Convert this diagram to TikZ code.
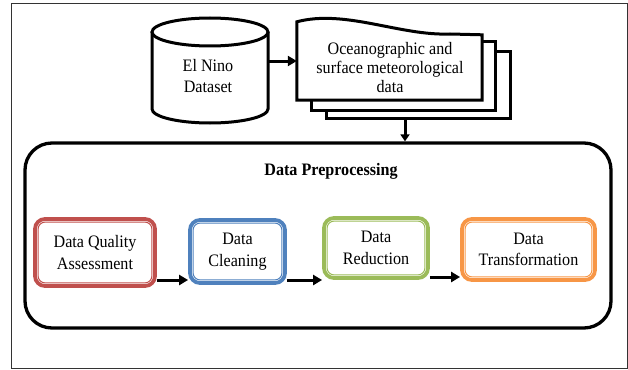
\documentclass[tikz,border=0pt]{standalone}
\usepackage{fontspec}
\setmainfont[FakeStretch=0.92]{Liberation Serif}
\usetikzlibrary{arrows.meta}
\definecolor{cred}{HTML}{C0504D}
\definecolor{cblue}{HTML}{4F81BD}
\definecolor{cgreen}{HTML}{9BBB59}
\definecolor{corange}{HTML}{F79646}
\begin{document}
\begin{tikzpicture}[x=1pt,y=-1pt,
  arr/.style={line width=3pt,-{Triangle[length=9pt,width=10pt]}},
  txt/.style={align=center,inner sep=0pt,font=\fontsize{17.5}{21}\selectfont},
  shp/.style={line width=3pt,fill=white},
  stage/.style={draw=#1,line width=3.8pt,rounded corners=10pt,align=center,inner sep=0pt,
    font=\fontsize{17.5}{21.5}\selectfont}]
\useasboundingbox (0,0) rectangle (628,369);
% outer frame
\draw[black!80,line width=0.8pt] (11.5,3.5) rectangle (627,368);

% cylinder
\node (ds) at (210,70.5) [minimum width=116pt,minimum height=105pt,inner sep=0pt] {};
\draw[shp] (152,32) -- (152,109) arc[start angle=180,end angle=0,x radius=58,y radius=14] -- (268,32);
\draw[shp] (210,32) ellipse [x radius=58,y radius=14];
\node (dstxt) at (208,76.5) [txt] {El Nino\\Dataset};

% documents
\node (doc3) at (418.5,85) [minimum width=183pt,minimum height=66pt,inner sep=0pt] {};
\node (doc2) at (403.5,76) [minimum width=183pt,minimum height=68pt,inner sep=0pt] {};
\node (doc1) at (389.5,61) [minimum width=185pt,minimum height=78pt,inner sep=0pt] {};
\draw[shp] (doc3.north west) rectangle (doc3.south east);
\draw[shp] (doc2.north west) rectangle (doc2.south east);
\draw[shp] (doc1.south west) -- (doc1.north west)
  .. controls (345,9) and (400,36) .. (450,34) -- ([yshift=-13pt]doc1.north east)
  -- (doc1.south east) -- cycle;
\node (doctxt) at (390,68) [txt,font=\fontsize{17.5}{19}\selectfont] {Oceanographic and\\surface meteorological\\data};

\draw[arr] (ds.east |- doc1.west) -- (doc1.west);

% preprocessing box
\node (pre) at (318,235.5) [draw,line width=3.3pt,rounded corners=27pt,minimum width=586pt,minimum height=185pt] {};
\node (title) at (331,171.5) [txt,font=\bfseries\fontsize{17.5}{21}\selectfont] {Data Preprocessing};
\coordinate (ax) at (405,0);
\draw[line width=3pt,-{Triangle[length=7pt,width=9pt]}] (doc3.south -| ax) -- (pre.north -| ax);

% stages
\node (dqa) at (95,252.5) [stage=cred,minimum width=120pt,minimum height=67pt] {Data Quality\\Assessment};
\node (dc) at (237.5,251.5) [stage=cblue,minimum width=95pt,minimum height=63pt] {Data\\Cleaning};
\node (dr) at (376,248) [stage=cgreen,minimum width=104pt,minimum height=60pt] {Data\\Reduction};
\node (dt) at (528.5,249.5) [stage=corange,minimum width=133pt,minimum height=61pt] {Data\\Transformation};
\foreach \n/\c in {dqa/cred,dc/cblue,dr/cgreen,dt/corange}{
  \draw[draw=\c,line width=1pt,rounded corners=7pt]
    ([shift={(5pt,-5pt)}]\n.north west) rectangle ([shift={(-5pt,5pt)}]\n.south east);
}
\coordinate (a1) at ([yshift=-27.5pt]dqa.east);
\coordinate (a2) at ([yshift=-28.5pt]dc.east);
\coordinate (a3) at ([yshift=-29pt]dr.east);
\draw[arr] (a1) -- (a1 -| dc.west);
\draw[arr] (a2) -- (a2 -| dr.west);
\draw[arr] (a3) -- (a3 -| dt.west);
\end{tikzpicture}
\end{document}
